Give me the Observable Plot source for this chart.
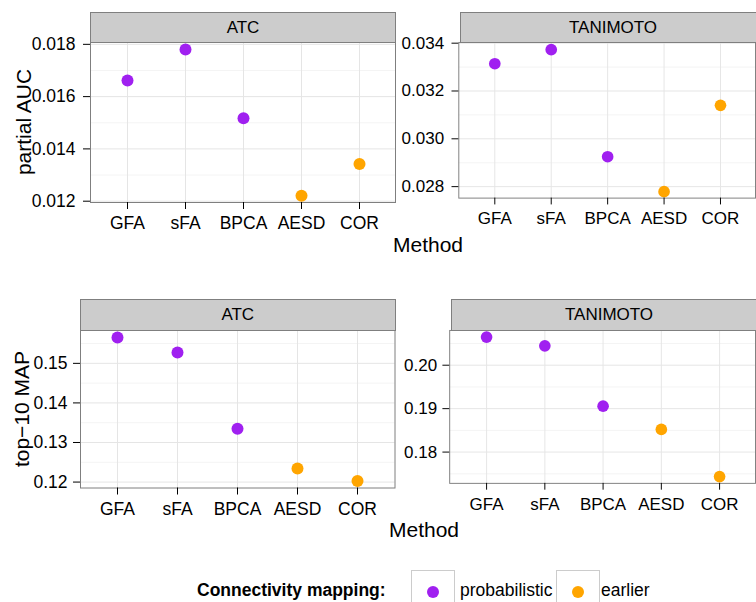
<!DOCTYPE html>
<html><head><meta charset="utf-8">
<script src="https://cdn.jsdelivr.net/npm/d3@7"></script>
<script src="https://cdn.jsdelivr.net/npm/@observablehq/plot@0.6"></script>
<style>
body{margin:0;background:#fff;}
#root{position:relative;width:756px;height:602px;overflow:hidden;font-family:"Liberation Sans",Arial,sans-serif;color:#000;background:#fff;}
.abs{position:absolute;white-space:nowrap;}
.strip{position:absolute;box-sizing:border-box;background:#cccccc;border:1px solid #7f7f7f;font-size:17px;text-align:center;}
.title{position:absolute;white-space:nowrap;font-size:21px;line-height:21px;}
.ytitle{position:absolute;white-space:nowrap;font-size:21px;line-height:21px;transform:translate(-50%,-50%) rotate(-90deg);}
.leg{position:absolute;white-space:nowrap;font-size:17.5px;line-height:20px;}
.key{position:absolute;box-sizing:border-box;width:44px;height:44px;border:1px solid #cccccc;background:#fff;}
.keydot{position:absolute;width:12px;height:12px;border-radius:50%;left:15px;top:15px;}
</style></head><body><div id="root"></div>
<script>
// ---- data ----
const methods = ["GFA", "sFA", "BPCA", "AESD", "COR"];
const mapping = ["probabilistic", "probabilistic", "probabilistic", "earlier", "earlier"];
const mappingLevels = ["probabilistic", "earlier"];
const mappingColors = ["#A020F0", "#FFA500"];
const aucATC = [0.01662, 0.01780, 0.01517, 0.01221, 0.01342];
const aucTAN = [0.03314, 0.03373, 0.02925, 0.02779, 0.03140];
const mapATC = [0.15655, 0.15277, 0.13348, 0.12340, 0.12025];
const mapTAN = [0.20647, 0.20446, 0.19057, 0.18522, 0.17436];
const ticksAucATC = [0.012, 0.014, 0.016, 0.018];
const ticksAucTAN = [0.028, 0.030, 0.032, 0.034];
const ticksMapATC = [0.12, 0.13, 0.14, 0.15];
const ticksMapTAN = [0.18, 0.19, 0.20];
const facetLabels = ["ATC", "TANIMOTO"];
const xTitle = "Method";
const yTitles = ["partial AUC", "top\u221210 MAP"];
const legendTitle = "Connectivity mapping:";

const root = document.getElementById("root");
const FONT = '"Liberation Sans", Arial, sans-serif';

function panel({values, ticks, fmt, domain, x0, x1, y0, y1, stripTop, label, pad}) {
  const ML = 62, MT = 1, MR = 1, MB = 44;
  const w = x1 - x0, h = y1 - y0;
  const data = methods.map((m, i) => ({method: m, value: values[i], mapping: mapping[i]}));
  const step = ticks[1] - ticks[0];
  const minor = [];
  for (let i = -1; i < ticks.length; i++) {
    const v = ticks[0] + (i + 0.5) * step;
    if (v > domain[0] && v < domain[1]) minor.push(v);
  }
  const chart = Plot.plot({
    width: ML + w + MR, height: MT + h + MB,
    marginLeft: ML, marginTop: MT, marginRight: MR, marginBottom: MB,
    style: {fontFamily: FONT, fontSize: "17.5px", background: "transparent", color: "#000", overflow: "visible"},
    x: {type: "point", domain: methods, padding: 0.6, label: null},
    y: {domain, label: null},
    color: {domain: mappingLevels, range: mappingColors},
    marks: [
      Plot.ruleY(minor, {stroke: "#f4f4f4"}),
      Plot.ruleY(ticks, {stroke: "#e5e5e5"}),
      Plot.ruleX(methods, {stroke: "#e5e5e5"}),
      Plot.dot(data, {x: "method", y: "value", fill: "mapping", r: 6}),
      Plot.frame({stroke: "#7f7f7f"}),
      Plot.axisY(ticks, {tickSize: 7, tickPadding: pad, tickFormat: d3.format(fmt), label: null}),
      Plot.axisX({tickSize: 7, tickPadding: 7.5, label: null})
    ]
  });
  const holder = document.createElement("div");
  holder.className = "abs";
  holder.style.left = (x0 - ML) + "px";
  holder.style.top = (y0 - MT) + "px";
  holder.appendChild(chart);
  root.appendChild(holder);
  const strip = document.createElement("div");
  strip.className = "strip";
  strip.style.left = x0 + "px";
  strip.style.top = stripTop + "px";
  strip.style.width = (w + 1) + "px";
  strip.style.height = (y0 - stripTop + 1) + "px";
  strip.style.lineHeight = (y0 - stripTop - 1) + "px";
  strip.textContent = label;
  root.appendChild(strip);
}

panel({values: aucATC, ticks: ticksAucATC, fmt: ".3f", domain: [0.01195, 0.01807], x0: 90, x1: 395, y0: 42, y1: 202, stripTop: 12, label: facetLabels[0], pad: 8});
panel({values: aucTAN, ticks: ticksAucTAN, fmt: ".3f", domain: [0.02752, 0.03403], x0: 460, x1: 765, y0: 42, y1: 202, stripTop: 12, label: facetLabels[1], pad: 8});
panel({values: mapATC, ticks: ticksMapATC, fmt: ".2f", domain: [0.1185, 0.1583], x0: 80, x1: 394.5, y0: 330, y1: 487.5, stripTop: 299, label: facetLabels[0], pad: 6});
panel({values: mapTAN, ticks: ticksMapTAN, fmt: ".2f", domain: [0.1728, 0.2080], x0: 451, x1: 766, y0: 330, y1: 487.5, stripTop: 298.5, label: facetLabels[1], pad: 6});

function addText(cls, text, left, top, extra) {
  const d = document.createElement("div");
  d.className = cls;
  d.textContent = text;
  d.style.left = left + "px";
  d.style.top = top + "px";
  if (extra) Object.assign(d.style, extra);
  root.appendChild(d);
  return d;
}
// x titles (centered)
addText("title", xTitle, 428, 234, {transform: "translateX(-50%)"});
addText("title", xTitle, 424, 519, {transform: "translateX(-50%)"});
// y titles (rotated)
addText("ytitle", yTitles[0], 22.5, 122);
addText("ytitle", yTitles[1], 21, 409);

// legend
addText("leg", legendTitle, 197, 580, {fontWeight: "bold"});
const keyX = [411, 555.5];
const labX = [460, 601];
mappingLevels.forEach((lv, i) => {
  const k = document.createElement("div");
  k.className = "key";
  k.style.left = keyX[i] + "px";
  k.style.top = "570px";
  const dot = document.createElement("div");
  dot.className = "keydot";
  dot.style.background = mappingColors[i];
  k.appendChild(dot);
  root.appendChild(k);
  addText("leg", lv, labX[i], 580);
});
</script></body></html>
